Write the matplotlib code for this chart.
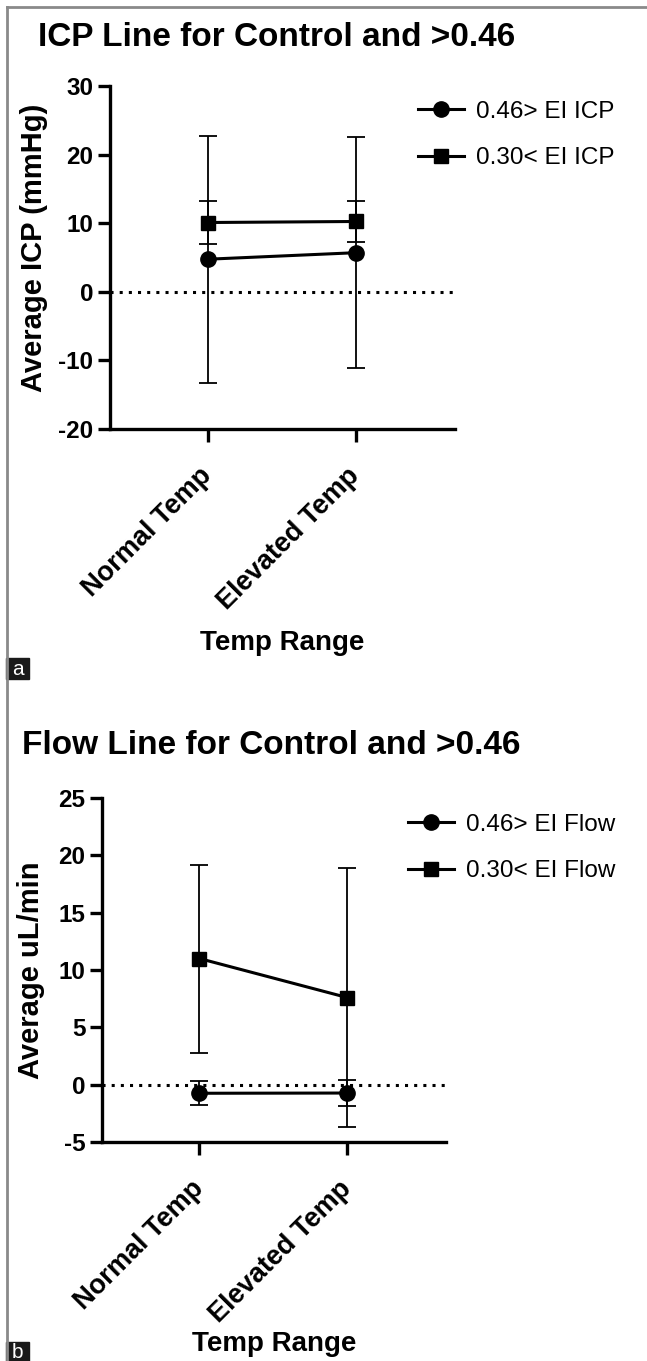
import numpy as np
import matplotlib.pyplot as plt
from matplotlib.patches import Rectangle
from matplotlib.lines import Line2D

plt.rcParams["font.family"] = ["Liberation Sans", "DejaVu Sans"]
plt.rcParams["axes.unicode_minus"] = False

# ---- data ----
categories = ["Normal Temp", "Elevated Temp"]

# panel a: ICP
icp_low_mean = [4.75, 5.7]       # 0.46> EI ICP
icp_low_err = [18.0, 16.8]
icp_high_mean = [10.1, 10.25]    # 0.30< EI ICP
icp_high_err = [3.2, 3.0]
icp_labels = ["0.46> EI ICP", "0.30< EI ICP"]

# panel b: flow
flow_low_mean = [-0.75, -0.73]   # 0.46> EI Flow
flow_low_err = [1.05, 1.1]
flow_high_mean = [11.0, 7.6]     # 0.30< EI Flow
flow_high_err = [8.2, 11.3]
flow_labels = ["0.46> EI Flow", "0.30< EI Flow"]

W, H = 647, 1361
fig = plt.figure(figsize=(W / 100, H / 100), dpi=100)


def px_axes(left, top, right, bottom):
    return fig.add_axes([left / W, 1 - bottom / H, (right - left) / W, (bottom - top) / H])


def draw_panel(ax, low_m, low_e, high_m, high_e, labels, ylim, yticks, ylabel, leg_xy):
    x = np.arange(len(categories))
    ekw = dict(ecolor="black", elinewidth=1.3, capsize=6.5, capthick=1.3)
    ax.errorbar(x, low_m, yerr=low_e, color="black", lw=2.2, marker="o", ms=11,
                label=labels[0], zorder=3, **ekw)
    ax.errorbar(x, high_m, yerr=high_e, color="black", lw=2.2, marker="s", ms=10,
                label=labels[1], zorder=3, **ekw)
    ax.axhline(0, color="black", lw=2.2, linestyle=(0, (1, 2.0)), zorder=1)
    ax.set_xlim(-0.66, 1.67)
    ax.set_ylim(*ylim)
    ax.set_yticks(yticks)
    ax.set_xticks(x)
    ax.set_xticklabels(categories, rotation=45, ha="right", va="center",
                       rotation_mode="anchor", fontsize=19.5, fontweight="bold")
    for t in ax.get_yticklabels():
        t.set_fontsize(17.5)
        t.set_fontweight("bold")
    for s in ["top", "right"]:
        ax.spines[s].set_visible(False)
    for s in ["left", "bottom"]:
        ax.spines[s].set_linewidth(2.4)
    ax.tick_params(axis="both", width=2.4, length=9, direction="out", pad=3)
    ax.tick_params(axis="x", pad=22)
    ax.set_ylabel(ylabel, fontsize=21, fontweight="bold")
    ax.set_xlabel("Temp Range", fontsize=20, fontweight="bold")
    handles = [Line2D([], [], color="black", lw=2.2, marker="o", ms=11),
               Line2D([], [], color="black", lw=2.2, marker="s", ms=10)]
    fig.legend(handles, labels, loc="center left",
               bbox_to_anchor=(leg_xy[0] / W, 1 - leg_xy[1] / H),
               frameon=False, fontsize=17.5, handlelength=1.9, handletextpad=0.5,
               labelspacing=1.0, borderpad=0, borderaxespad=0)


# panel a
ax1 = px_axes(110, 86, 455, 429)
draw_panel(ax1, icp_low_mean, icp_low_err, icp_high_mean, icp_high_err, icp_labels,
           (-20, 30), [-20, -10, 0, 10, 20, 30], "Average ICP (mmHg)", (418, 135))
ax1.yaxis.set_label_coords(-0.18, 0.528)
ax1.xaxis.set_label_coords(0.5, -0.585)
fig.text(38 / W, 1 - 38 / H, "ICP Line for Control and >0.46", fontsize=24,
         fontweight="bold", va="center", ha="left")

# panel b
ax2 = px_axes(102, 798, 446, 1142)
draw_panel(ax2, flow_low_mean, flow_low_err, flow_high_mean, flow_high_err, flow_labels,
           (-5, 25), [-5, 0, 5, 10, 15, 20, 25], "Average uL/min", (408, 848))
ax2.yaxis.set_label_coords(-0.165, 0.5)
ax2.xaxis.set_label_coords(0.5, -0.55)
fig.text(22 / W, 1 - 745 / H, "Flow Line for Control and >0.46", fontsize=24,
         fontweight="bold", va="center", ha="left")

# frame lines and panel letters
fig.add_artist(Line2D([7 / W, 7 / W], [0, 1 - 7 / H], color="#8a8a8a", lw=2))
fig.add_artist(Line2D([7 / W, 1], [1 - 7 / H, 1 - 7 / H], color="#8a8a8a", lw=2))
for letter, top in [("a", 658), ("b", 1342)]:
    fig.add_artist(Rectangle((6 / W, 1 - (top + 21) / H), 23 / W, 21 / H,
                             transform=fig.transFigure, color="#1a1a1a"))
    fig.text(17.5 / W, 1 - (top + 11) / H, letter, color="white", fontsize=15,
             ha="center", va="center")

fig.savefig("out.png", dpi=100)
